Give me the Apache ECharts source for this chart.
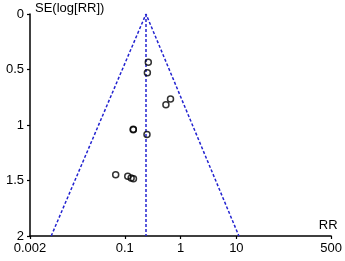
<!DOCTYPE html>
<html>
<head>
<meta charset="utf-8">
<script src="https://cdn.jsdelivr.net/npm/echarts@6/dist/echarts.min.js"></script>
<style>
  html, body { margin: 0; padding: 0; background: #fff; }
  #chart { width: 345px; height: 261px; }
</style>
</head>
<body>
<div id="chart"></div>
<script>
// study points: risk ratio and its standard error (log scale)
const studyRR = [0.264, 0.254, 0.66, 0.546, 0.142, 0.142, 0.25, 0.0687, 0.113, 0.143, 0.13];
const studySE = [0.434, 0.53, 0.766, 0.818, 1.039, 1.042, 1.085, 1.448, 1.461, 1.485, 1.477];

// pooled estimate and funnel limits
const pooledRR = 0.24;
const funnelRR = [0.0048, 0.24, 11.1];
const funnelSE = [2, 0, 2];

// tick labels
const xTicks = [0.002, 0.1, 1, 10, 500];
const yTicks = [0, 0.5, 1, 1.5, 2];

const lg = v => Math.log10(v);
const fmtRR = v => {
  // back from log10 to the printed tick label
  let best = xTicks[0];
  xTicks.forEach(t => { if (Math.abs(lg(t) - v) < Math.abs(lg(best) - v)) best = t; });
  return String(best);
};

const chart = echarts.init(document.getElementById('chart'));
const font = 'Liberation Sans, Arial, sans-serif';
const lineBlue = '#2323d0';

chart.setOption({
  animation: false,
  grid: { left: 30, right: 11, top: 14, bottom: 25, containLabel: false },
  xAxis: {
    type: 'value',
    position: 'bottom',
    min: lg(0.002),
    max: lg(500),
    name: 'RR',
    nameLocation: 'end',
    nameGap: -3,
    nameTextStyle: { color: '#000', fontSize: 13, fontFamily: font, align: 'center', verticalAlign: 'bottom', padding: [0, 0, 4, 0] },
    axisLine: { onZero: false, lineStyle: { color: '#000', width: 1.5 } },
    axisTick: { show: true, length: 3, lineStyle: { color: '#000', width: 1.2 }, customValues: xTicks.map(lg) },
    axisLabel: { color: '#000', fontSize: 13, fontFamily: font, margin: 6, customValues: xTicks.map(lg), formatter: fmtRR },
    splitLine: { show: false }
  },
  yAxis: {
    type: 'value',
    position: 'left',
    inverse: true,
    min: 0,
    max: 2,
    interval: 0.5,
    name: 'SE(log[RR])',
    nameLocation: 'start',
    nameGap: 6,
    nameTextStyle: { color: '#000', fontSize: 13, fontFamily: font, align: 'left', verticalAlign: 'middle', padding: [0, 0, 0, 5] },
    axisLine: { show: true, onZero: false, lineStyle: { color: '#000', width: 1.5 } },
    axisTick: { show: true, length: 3, lineStyle: { color: '#000', width: 1.2 } },
    axisLabel: { color: '#000', fontSize: 13, fontFamily: font, margin: 6, formatter: v => String(v) },
    splitLine: { show: false }
  },
  series: [
    {
      type: 'line',
      data: funnelRR.map((r, i) => [lg(r), funnelSE[i]]),
      symbol: 'none',
      lineStyle: { color: lineBlue, width: 1.5, type: [3, 2] },
      z: 1
    },
    {
      type: 'line',
      data: [[lg(pooledRR), 0], [lg(pooledRR), 2]],
      symbol: 'none',
      lineStyle: { color: lineBlue, width: 1.5, type: [3, 2] },
      z: 1
    },
    {
      type: 'scatter',
      data: studyRR.map((r, i) => [lg(r), studySE[i]]),
      symbol: 'circle',
      symbolSize: 6,
      itemStyle: { color: 'rgba(255,255,255,0)', borderColor: '#000', borderWidth: 1.5 },
      z: 3
    }
  ]
});
</script>
</body>
</html>
